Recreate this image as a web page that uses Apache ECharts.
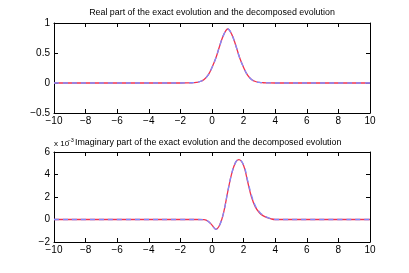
<!DOCTYPE html>
<html><head><meta charset="utf-8">
<script src="https://cdn.jsdelivr.net/npm/echarts@6/dist/echarts.min.js"></script>
<style>html,body{margin:0;padding:0;background:#fff}#c{width:409px;height:273px}</style>
</head><body><div id="c"></div>
<script>
const realX = [-10, -2, -1.5, -1.25, -1, -0.75, -0.5, -0.25, 0, 0.25, 0.5, 0.75, 1, 1.25, 1.5, 1.75, 2, 2.25, 2.5, 2.75, 3, 3.25, 3.5, 4, 10];
const realExact = [0, 0, 0.002, 0.004, 0.01, 0.025, 0.06, 0.13, 0.26, 0.42, 0.63, 0.81, 0.9, 0.81, 0.63, 0.42, 0.26, 0.13, 0.06, 0.025, 0.01, 0.004, 0.002, 0, 0];
const realDecomp = [0, 0, 0.002, 0.004, 0.01, 0.025, 0.06, 0.13, 0.26, 0.42, 0.63, 0.81, 0.9, 0.81, 0.63, 0.42, 0.26, 0.13, 0.06, 0.025, 0.01, 0.004, 0.002, 0, 0];
const imagX = [-10, -1, -0.5, -0.25, 0, 0.25, 0.5, 0.75, 1, 1.25, 1.5, 1.7, 2, 2.25, 2.5, 2.75, 3, 3.25, 3.5, 3.75, 4, 10];
const imagExact = [0, 0, -0.02, -0.15, -0.5, -0.87, -0.45, 0.7, 2.5, 4.1, 5.1, 5.32, 4.8, 3.4, 2.0, 1.1, 0.6, 0.32, 0.16, 0.05, 0, 0];
const imagDecomp = [0, 0, -0.02, -0.15, -0.5, -0.87, -0.45, 0.7, 2.5, 4.1, 5.1, 5.32, 4.85, 3.5, 2.15, 1.2, 0.68, 0.37, 0.2, 0.07, 0, 0];
const xTicks = [-10, -8, -6, -4, -2, 0, 2, 4, 6, 8, 10];
const realYTicks = [-0.5, 0, 0.5, 1];
const imagYTicks = [-2, 0, 2, 4, 6];
const title1 = 'Real part of the exact evolution and the decomposed evolution';
const title2 = 'Imaginary part of the exact evolution and the decomposed evolution';

const FONT = 'Liberation Sans';
const fmt = v => String(v).replace('-', '\u2212');
const pairs = (xs, ys) => xs.map((x, i) => [x, ys[i]]);

function xAx(gi, pos, show) {
  return {type: 'value', gridIndex: gi, position: pos, min: -10, max: 10, interval: 2,
    axisLine: {show: true, onZero: false, lineStyle: {color: '#000', width: 1}},
    axisTick: {show: true, inside: true, length: 4, lineStyle: {color: '#000'}},
    axisLabel: {show: show, color: '#000', fontFamily: FONT, fontSize: 10, margin: 3, formatter: fmt},
    splitLine: {show: false}};
}
function yAx(gi, pos, show, min, max, iv) {
  return {type: 'value', gridIndex: gi, position: pos, min: min, max: max, interval: iv,
    axisLine: {show: true, onZero: false, lineStyle: {color: '#000', width: 1}},
    axisTick: {show: true, inside: true, length: 4, lineStyle: {color: '#000'}},
    axisLabel: {show: show, color: '#000', fontFamily: FONT, fontSize: 10, margin: 4, formatter: fmt},
    splitLine: {show: false}};
}
function ser(xi, yi, data, color, dashed, z) {
  return {type: 'line', xAxisIndex: xi, yAxisIndex: yi, data: data, smooth: 0.4, showSymbol: false, z: z,
    lineStyle: {color: color, width: 1.3, type: dashed ? [5, 4] : 'solid'}, animation: false};
}

const chart = echarts.init(document.getElementById('c'), null, {renderer: 'canvas'});
chart.setOption({
  animation: false,
  backgroundColor: '#fff',
  grid: [
    {left: 54, top: 23, width: 316, height: 90},
    {left: 54, top: 152, width: 316, height: 90}
  ],
  graphic: [
    {type: 'text', x: 212, y: 12.5, style: {text: title1, font: '8.9px "Liberation Sans"', fill: '#000', align: 'center', verticalAlign: 'middle'}},
    {type: 'text', x: 75, y: 142.5, style: {text: title2, font: '8.9px "Liberation Sans"', fill: '#000', align: 'left', verticalAlign: 'middle'}},
    {type: 'text', x: 54, y: 144, style: {text: 'x 10', font: '8px "Liberation Sans"', fill: '#000', align: 'left', verticalAlign: 'middle'}},
    {type: 'text', x: 67.5, y: 140, style: {text: '\u22123', font: '5.5px "Liberation Sans"', fill: '#000', align: 'left', verticalAlign: 'middle'}}
  ],
  xAxis: [xAx(0, 'bottom', true), xAx(0, 'top', false), xAx(1, 'bottom', true), xAx(1, 'top', false)],
  yAxis: [yAx(0, 'left', true, -0.5, 1, 0.5), yAx(0, 'right', false, -0.5, 1, 0.5),
          yAx(1, 'left', true, -2, 6, 2), yAx(1, 'right', false, -2, 6, 2)],
  series: [
    ser(0, 0, pairs(realX, realExact), '#f0334f', false, 2),
    ser(0, 0, pairs(realX, realDecomp), '#7f8cff', true, 3),
    ser(2, 2, pairs(imagX, imagExact), '#f0334f', false, 2),
    ser(2, 2, pairs(imagX, imagDecomp), '#7f8cff', true, 3)
  ]
});
</script></body></html>
